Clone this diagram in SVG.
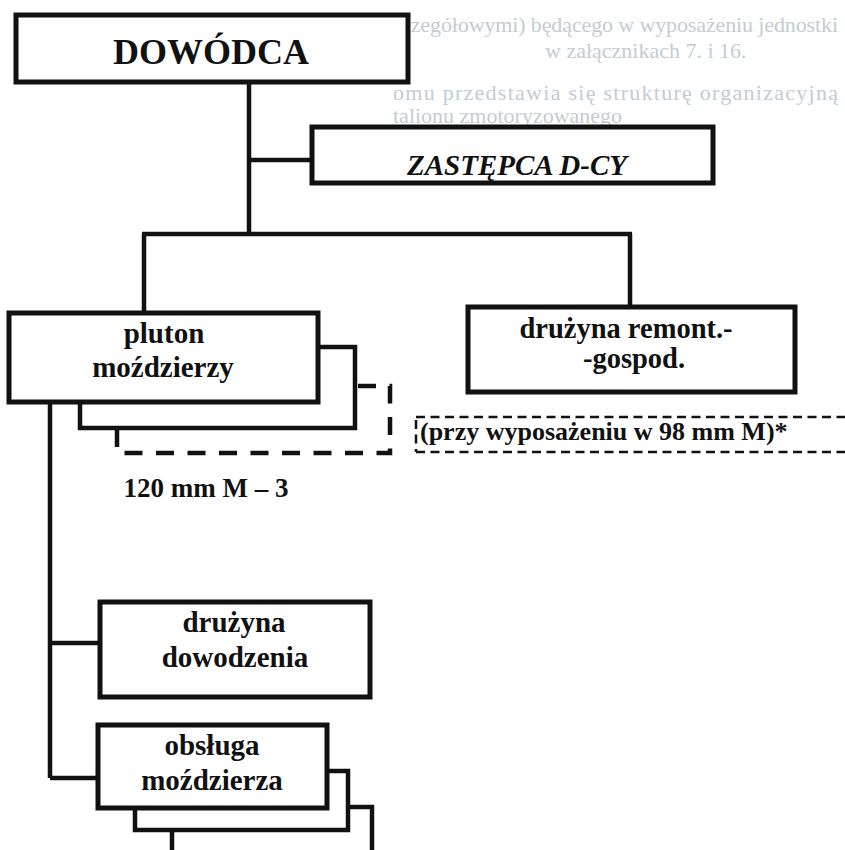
<svg xmlns="http://www.w3.org/2000/svg" width="845" height="850" viewBox="0 0 845 850">
  <style>
    .box { fill: #fff; stroke: #111; stroke-width: 5; }
    .back { fill: #fff; stroke: #111; stroke-width: 4.5; }
    .wire { fill: none; stroke: #111; stroke-width: 4.5; }
    .lbl { font-family: "Liberation Serif", "Times New Roman", serif; font-weight: bold; fill: #111; text-anchor: middle; }
    .lbl-left { font-family: "Liberation Serif", "Times New Roman", serif; font-weight: bold; fill: #111; text-anchor: start; }
    .page { font-family: "Liberation Serif", "Times New Roman", serif; font-size: 22px; fill: #c3ccd3; }
  </style>

  <rect width="845" height="850" fill="#fff"/>

  <!-- surrounding page text -->
  <g id="page-text">
    <text class="page" x="383" y="32" textLength="455" lengthAdjust="spacing">szczegółowymi) będącego w wyposażeniu jednostki</text>
    <text class="page" x="545" y="58">w załącznikach 7. i 16.</text>
    <text class="page" x="393" y="100" textLength="445" lengthAdjust="spacing">omu przedstawia się strukturę organizacyjną</text>
    <text class="page" x="393" y="123">talionu zmotoryzowanego</text>
  </g>

  <!-- connectors -->
  <g id="connectors">
    <path class="wire" d="M249,82 V234 M249,160 H312 M142,234 H632 M144,234 V313 M630,234 V307"/>
    <path class="wire" d="M50,402 V778 M50,643 H100 M50,778 H98"/>
  </g>

  <g id="dowodca">
    <rect class="box" x="16" y="15" width="392" height="67"/>
    <text class="lbl" x="211" y="64" font-size="36">DOWÓDCA</text>
  </g>

  <g id="zastepca">
    <rect class="box" x="312" y="127" width="401" height="56"/>
    <text class="lbl" x="517" y="175" font-size="29" font-style="italic">ZASTĘPCA D-CY</text>
  </g>

  <g id="pluton">
    <!-- third (optional) copy, dashed -->
    <path d="M117,429 V453 H390 V386 H355" fill="none" stroke="#111" stroke-width="4.5" stroke-dasharray="18 13.5"/>
    <rect class="back" x="80" y="347" width="275" height="81"/>
    <rect class="box" x="9" y="313" width="309" height="89"/>
    <text class="lbl" x="164" y="343" font-size="29">pluton</text>
    <text class="lbl" x="163" y="377" font-size="29">moździerzy</text>
    <text class="lbl" x="206" y="497" font-size="27">120 mm M – 3</text>
  </g>

  <g id="remont">
    <rect class="box" x="468" y="307" width="327" height="85"/>
    <text class="lbl" x="626" y="338" font-size="28.5">drużyna remont.-</text>
    <text class="lbl" x="634" y="368" font-size="28.5">-gospod.</text>
  </g>

  <g id="note">
    <path d="M416,417 H850 M416,452 H850 M416,420 V452" fill="none" stroke="#111" stroke-width="2.5" stroke-dasharray="9 5.5"/>
    <text class="lbl-left" x="420" y="440" font-size="26">(przy wyposażeniu w 98 mm M)*</text>
  </g>

  <g id="dowodzenia">
    <rect class="box" x="100" y="602" width="270" height="95"/>
    <text class="lbl" x="234" y="632" font-size="29">drużyna</text>
    <text class="lbl" x="235" y="667" font-size="29">dowodzenia</text>
  </g>

  <g id="obsluga">
    <rect class="back" x="172" y="807" width="200" height="60"/>
    <rect class="back" x="135" y="771" width="213" height="59"/>
    <rect class="box" x="98" y="725" width="229" height="83"/>
    <text class="lbl" x="212" y="755" font-size="29">obsługa</text>
    <text class="lbl" x="212" y="790" font-size="29">moździerza</text>
  </g>
</svg>
